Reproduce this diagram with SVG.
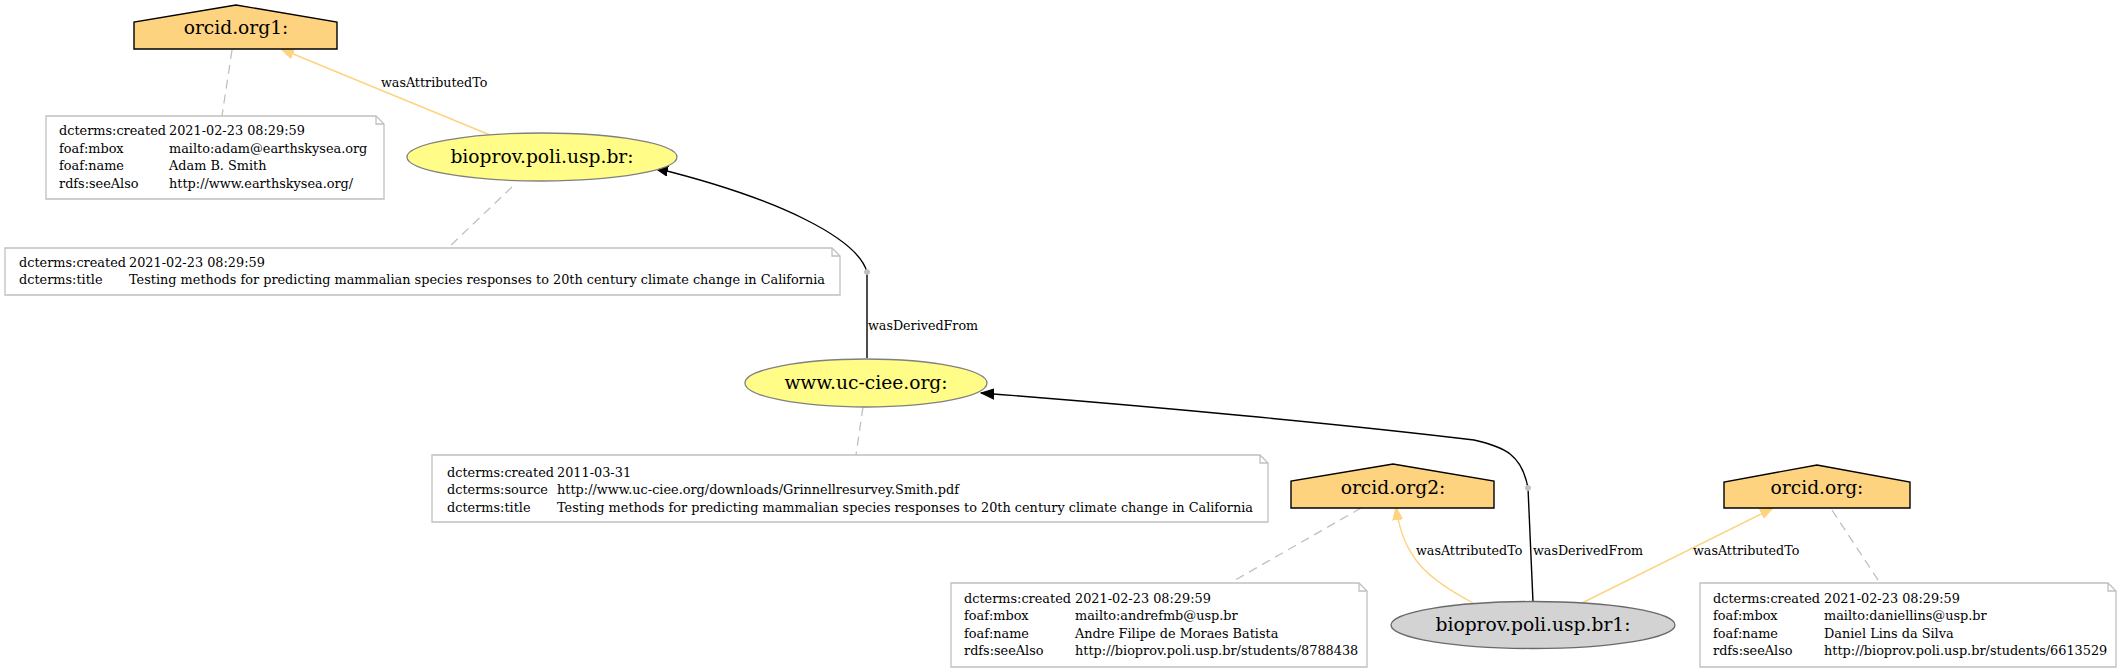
<svg xmlns="http://www.w3.org/2000/svg" width="2121" height="672" viewBox="0 0 2121 672">
<style>
  text { font-family: "DejaVu Serif", "Liberation Serif", serif; fill: #000; }
  .nl { font-size: 18.67px; text-anchor: middle; }
  .el { font-size: 12.7px; }
  .nt { font-size: 12.85px; }
  .entity { fill: #FFFC87; stroke: #808080; stroke-width: 1.3; }
  .activity { fill: #D3D3D3; stroke: #696969; stroke-width: 1.3; }
  .agent { fill: #FED37F; stroke: #000; stroke-width: 1.4; }
  .note { fill: #fff; stroke: #C0C0C0; stroke-width: 1.3; }
  .fold { fill: none; stroke: #C0C0C0; stroke-width: 1.3; }
  .ann { fill: none; stroke: #C0C0C0; stroke-width: 1.3; stroke-dasharray: 9,6; }
  .attr { fill: none; stroke: #FED37F; stroke-width: 1.4; }
  .deriv { fill: none; stroke: #000; stroke-width: 1.4; }
  .pt { fill: #C0C0C0; stroke: #C0C0C0; }
</style>
<defs>
  <marker id="arrAttr" markerUnits="userSpaceOnUse" markerWidth="14" markerHeight="12" refX="13" refY="5" orient="auto" viewBox="0 0 14 10">
    <path d="M0,0 L13,5 L0,10 Z" fill="#FED37F" stroke="#FED37F" stroke-width="1"/>
  </marker>
  <marker id="arrDer" markerUnits="userSpaceOnUse" markerWidth="14" markerHeight="12" refX="13" refY="5" orient="auto" viewBox="0 0 14 10">
    <path d="M0,0 L13,5 L0,10 Z" fill="#000" stroke="#000" stroke-width="1"/>
  </marker>
</defs>

<g id="connectors">
  <!-- annotation links -->
  <path class="ann" d="M232,50 L222,116"/>
  <path class="ann" d="M512,187 L449,247"/>
  <path class="ann" d="M863,407 L856,455"/>
  <path class="ann" d="M1361,508 L1230,583"/>
  <path class="ann" d="M1832,510 L1880,583"/>
  <!-- wasAttributedTo bioprov -> orcid1 -->
  <path class="attr" d="M490,135 L281,49" marker-end="url(#arrAttr)"/>
  <text class="el" x="381" y="87">wasAttributedTo</text>
  <!-- wasDerivedFrom uc-ciee -> bioprov -->
  <path class="deriv" d="M867,358 L867,272"/>
  <path class="deriv" d="M867,272 C858,240 785,200 655,168" marker-end="url(#arrDer)"/>
  <circle class="pt" cx="867" cy="272" r="2.5"/>
  <text class="el" x="868" y="330">wasDerivedFrom</text>
  <!-- wasDerivedFrom bioprov1 -> uc-ciee -->
  <path class="deriv" d="M1533,602 L1528,488"/>
  <path class="deriv" d="M1528,488 C1522,455 1505,447 1474,440 C1350,425 1150,406 981,393" marker-end="url(#arrDer)"/>
  <circle class="pt" cx="1528" cy="488" r="2.5"/>
  <text class="el" x="1533" y="555">wasDerivedFrom</text>
  <!-- wasAttributedTo bioprov1 -> orcid2 -->
  <path class="attr" d="M1473,603 C1430,580 1403,560 1396,507" marker-end="url(#arrAttr)"/>
  <text class="el" x="1416" y="555">wasAttributedTo</text>
  <!-- wasAttributedTo bioprov1 -> orcid -->
  <path class="attr" d="M1582,603 L1773,508" marker-end="url(#arrAttr)"/>
  <text class="el" x="1693" y="555">wasAttributedTo</text>
</g>

<g id="orcid1">
  <polygon class="agent" points="134,49 337,49 337,22 236,5 134,22"/>
  <text class="nl" x="236" y="34">orcid.org1:</text>
</g>

<g id="note-orcid1">
  <path class="note" d="M46,116 L376,116 L384,124 L384,199 L46,199 Z"/>
  <path class="fold" d="M376,116 L376,124 L384,124"/>
  <text class="nt" x="59" y="135">dcterms:created</text><text class="nt" x="169" y="135">2021-02-23 08:29:59</text>
  <text class="nt" x="59" y="152.5">foaf:mbox</text><text class="nt" x="169" y="152.5">mailto:adam@earthskysea.org</text>
  <text class="nt" x="59" y="170">foaf:name</text><text class="nt" x="169" y="170">Adam B. Smith</text>
  <text class="nt" x="59" y="187.5">rdfs:seeAlso</text><text class="nt" x="169" y="187.5">http://www.earthskysea.org/</text>
</g>

<g id="bioprov">
  <ellipse class="entity" cx="542" cy="157" rx="135" ry="24"/>
  <text class="nl" x="542" y="163">bioprov.poli.usp.br:</text>
</g>

<g id="note-bioprov">
  <path class="note" d="M5,248 L832,248 L840,256 L840,295 L5,295 Z"/>
  <path class="fold" d="M832,248 L832,256 L840,256"/>
  <text class="nt" x="19" y="266.5">dcterms:created</text><text class="nt" x="129" y="266.5">2021-02-23 08:29:59</text>
  <text class="nt" x="19" y="284">dcterms:title</text><text class="nt" x="129" y="284">Testing methods for predicting mammalian species responses to 20th century climate change in California</text>
</g>

<g id="ucciee">
  <ellipse class="entity" cx="866" cy="383" rx="121" ry="24"/>
  <text class="nl" x="866" y="389">www.uc-ciee.org:</text>
</g>

<g id="note-ucciee">
  <path class="note" d="M432,455 L1260,455 L1268,463 L1268,522 L432,522 Z"/>
  <path class="fold" d="M1260,455 L1260,463 L1268,463"/>
  <text class="nt" x="447" y="476.5">dcterms:created</text><text class="nt" x="557" y="476.5">2011-03-31</text>
  <text class="nt" x="447" y="494">dcterms:source</text><text class="nt" x="557" y="494">http://www.uc-ciee.org/downloads/Grinnellresurvey.Smith.pdf</text>
  <text class="nt" x="447" y="511.5">dcterms:title</text><text class="nt" x="557" y="511.5">Testing methods for predicting mammalian species responses to 20th century climate change in California</text>
</g>

<g id="orcid2">
  <polygon class="agent" points="1291,508 1494,508 1494,481 1393,464 1291,481"/>
  <text class="nl" x="1393" y="494">orcid.org2:</text>
</g>

<g id="note-orcid2">
  <path class="note" d="M951,583 L1359,583 L1367,591 L1367,667 L951,667 Z"/>
  <path class="fold" d="M1359,583 L1359,591 L1367,591"/>
  <text class="nt" x="964" y="602.5">dcterms:created</text><text class="nt" x="1075" y="602.5">2021-02-23 08:29:59</text>
  <text class="nt" x="964" y="620">foaf:mbox</text><text class="nt" x="1075" y="620">mailto:andrefmb@usp.br</text>
  <text class="nt" x="964" y="637.5">foaf:name</text><text class="nt" x="1075" y="637.5">Andre Filipe de Moraes Batista</text>
  <text class="nt" x="964" y="655">rdfs:seeAlso</text><text class="nt" x="1075" y="655">http://bioprov.poli.usp.br/students/8788438</text>
</g>

<g id="orcid">
  <polygon class="agent" points="1724,508 1910,508 1910,482 1817,465 1724,482"/>
  <text class="nl" x="1817" y="494">orcid.org:</text>
</g>

<g id="note-orcid">
  <path class="note" d="M1700,583 L2108,583 L2116,591 L2116,667 L1700,667 Z"/>
  <path class="fold" d="M2108,583 L2108,591 L2116,591"/>
  <text class="nt" x="1713" y="602.5">dcterms:created</text><text class="nt" x="1824" y="602.5">2021-02-23 08:29:59</text>
  <text class="nt" x="1713" y="620">foaf:mbox</text><text class="nt" x="1824" y="620">mailto:daniellins@usp.br</text>
  <text class="nt" x="1713" y="637.5">foaf:name</text><text class="nt" x="1824" y="637.5">Daniel Lins da Silva</text>
  <text class="nt" x="1713" y="655">rdfs:seeAlso</text><text class="nt" x="1824" y="655">http://bioprov.poli.usp.br/students/6613529</text>
</g>

<g id="bioprov1">
  <ellipse class="activity" cx="1533" cy="625" rx="142" ry="23.5"/>
  <text class="nl" x="1533" y="631">bioprov.poli.usp.br1:</text>
</g>
</svg>
